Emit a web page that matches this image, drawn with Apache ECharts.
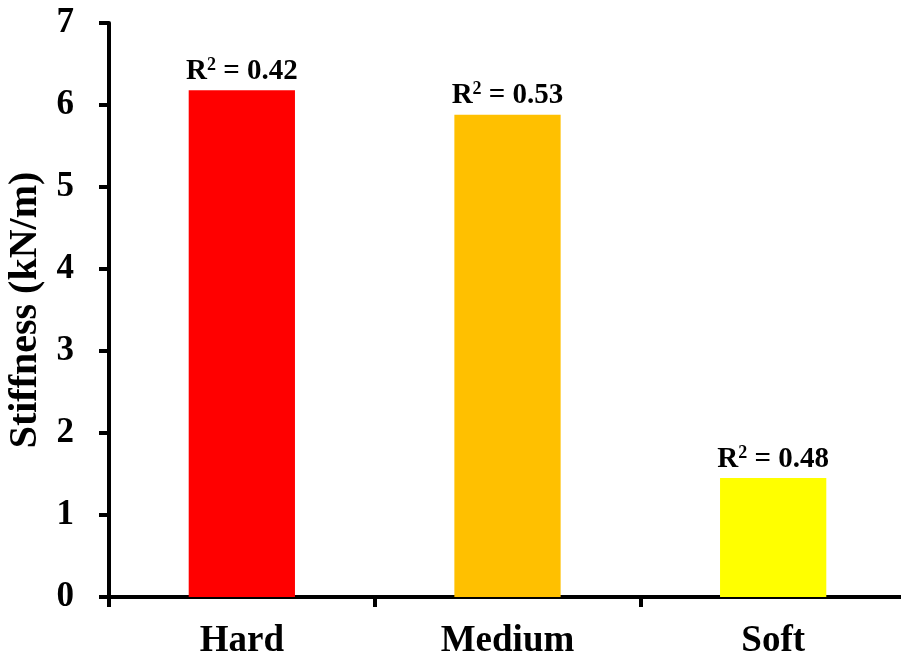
<!DOCTYPE html>
<html><head><meta charset="utf-8">
<script src="https://cdn.jsdelivr.net/npm/echarts@6/dist/echarts.min.js"></script>
<style>html,body{margin:0;padding:0;background:#fff}#c{width:901px;height:665px}</style>
</head><body><div id="c"></div>
<script>
const categories = ['Hard', 'Medium', 'Soft'];
const stiffness = [6.18, 5.88, 1.45];
const r2Values = ['0.42', '0.53', '0.48'];
const barColors = ['#FF0000', '#FFC000', '#FFFF00'];
const yTicks = [0, 1, 2, 3, 4, 5, 6, 7];

const font = 'Liberation Serif, Times New Roman, serif';
const chart = echarts.init(document.getElementById('c'));
chart.setOption({
  animation: false,
  backgroundColor: '#fff',
  grid: { left: 109, right: -5, top: 23, bottom: 68, containLabel: false, outerBoundsMode: 'none' },
  xAxis: {
    type: 'category', data: categories,
    axisLine: { lineStyle: { color: '#000', width: 4 } },
    axisTick: { show: true, length: 10, lineStyle: { color: '#000', width: 4 } },
    axisLabel: { color: '#000', fontFamily: font, fontWeight: 'bold', fontSize: 37, margin: 26 }
  },
  yAxis: {
    type: 'value', min: yTicks[0], max: yTicks[yTicks.length - 1], interval: 1,
    name: 'Stiffness (kN/m)', nameLocation: 'middle', nameGap: 62,
    nameTextStyle: { color: '#000', fontFamily: font, fontWeight: 'bold', fontSize: 40 },
    axisLine: { show: true, lineStyle: { color: '#000', width: 4 } },
    axisTick: { show: true, length: 10, lineStyle: { color: '#000', width: 4 } },
    splitLine: { show: false },
    axisLabel: { color: '#000', fontFamily: font, fontWeight: 'bold', fontSize: 35, margin: 35 }
  },
  series: [{
    type: 'bar', barWidth: '40%',
    data: stiffness.map((v, i) => ({ value: v, itemStyle: { color: barColors[i] } })),
    label: {
      show: true, position: 'top', distance: 4,
      formatter: (p) => '{a|R}{s|2}{a| = ' + r2Values[p.dataIndex] + '}',
      rich: {
        a: { color: '#000', fontFamily: font, fontWeight: 'bold', fontSize: 29 },
        s: { color: '#000', fontFamily: font, fontWeight: 'bold', fontSize: 18, verticalAlign: 'top', padding: [0, 0, 12, 0] }
      }
    }
  }]
});
</script></body></html>
